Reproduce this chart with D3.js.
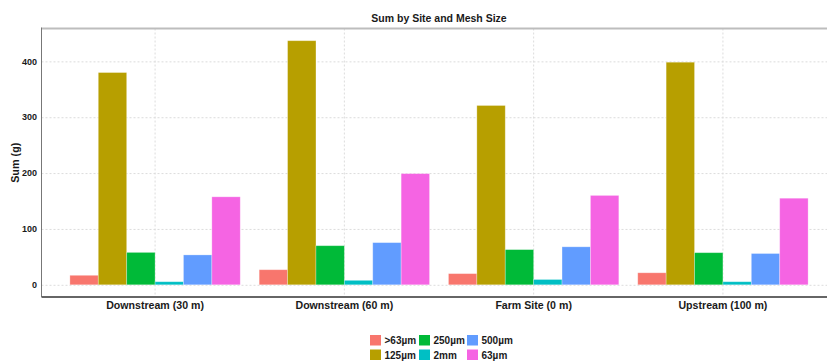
<!DOCTYPE html>
<html>
<head>
<meta charset="utf-8">
<script src="https://cdn.jsdelivr.net/npm/d3@7"></script>
<style>
  body { margin: 0; background: #fff; }
  text { font-family: "Liberation Sans", Arial, sans-serif; font-weight: bold; fill: #1a1a1a; }
</style>
</head>
<body>
<div id="chart"></div>
<script>
var sites = ["Downstream (30 m)", "Downstream (60 m)", "Farm Site (0 m)", "Upstream (100 m)"];
var meshes = [">63µm", "125µm", "250µm", "2mm", "500µm", "63µm"];
var colors = ["#F8766D", "#B79F00", "#00BA38", "#00BFC4", "#619CFF", "#F564E3"];

// one array per mesh size, values per site
var gt63 = [17, 27, 20, 21.5];
var m125 = [380, 437, 321, 398.5];
var m250 = [58, 70, 63, 57.5];
var m2mm = [5.5, 8, 9.5, 5.5];
var m500 = [53.5, 75.5, 68, 56];
var m63 = [157.5, 199, 160, 155];
var yTicks = [0, 100, 200, 300, 400];

var series = [gt63, m125, m250, m2mm, m500, m63];

var width = 827, height = 361;
var pLeft = 41.5, pRight = 836.5, pTop = 28.5, pBottom = 297;

var svg = d3.select("#chart").append("svg")
    .attr("width", width)
    .attr("height", height);

var data = [];
sites.forEach(function (s, i) {
    meshes.forEach(function (m, j) {
        data.push({ site: s, mesh: m, value: series[j][i] });
    });
});

var x = d3.scaleBand().domain(sites).range([pLeft, pRight])
    .paddingInner(0.1).paddingOuter(0.15);
var xm = d3.scaleBand().domain(meshes).range([0, x.bandwidth()]);
var z = d3.scaleOrdinal().domain(meshes).range(colors);

var ymax = d3.max(data, function (d) { return d.value; });
var y = d3.scaleLinear().domain([-ymax * 0.05, ymax * 1.05]).range([pBottom, pTop]);

// grid
var grid = svg.append("g")
    .attr("stroke", "#dcdcdc")
    .attr("stroke-dasharray", "2,2")
    .attr("stroke-width", 1);
grid.selectAll("line.h").data(yTicks).enter().append("line")
    .attr("x1", pLeft).attr("x2", pRight)
    .attr("y1", function (d) { return y(d) + 0.5; })
    .attr("y2", function (d) { return y(d) + 0.5; });
grid.selectAll("line.v").data(sites).enter().append("line")
    .attr("y1", pTop).attr("y2", pBottom)
    .attr("x1", function (d) { return x(d) + x.bandwidth() / 2; })
    .attr("x2", function (d) { return x(d) + x.bandwidth() / 2; });

// bars
svg.append("g").selectAll("rect").data(data).enter().append("rect")
    .attr("x", function (d) { return x(d.site) + xm(d.mesh); })
    .attr("width", xm.bandwidth())
    .attr("y", function (d) { return y(d.value); })
    .attr("height", function (d) { return y(0) - y(d.value); })
    .attr("fill", function (d) { return z(d.mesh); })
    .attr("stroke", "#fff")
    .attr("stroke-opacity", 0.35)
    .attr("stroke-width", 0.8);

// panel lines
svg.append("line").attr("x1", pLeft).attr("x2", width).attr("y1", pTop).attr("y2", pTop)
    .attr("stroke", "#bdbdbd").attr("stroke-width", 2);
svg.append("line").attr("x1", pLeft).attr("x2", pLeft).attr("y1", pTop - 1).attr("y2", pBottom)
    .attr("stroke", "#777").attr("stroke-width", 1);
svg.append("line").attr("x1", pLeft).attr("x2", width).attr("y1", pBottom).attr("y2", pBottom)
    .attr("stroke", "#666").attr("stroke-width", 1.8);

// y tick labels
svg.append("g").selectAll("text").data(yTicks).enter().append("text")
    .attr("x", pLeft - 4.5)
    .attr("y", function (d) { return y(d); })
    .attr("dy", "0.35em")
    .attr("text-anchor", "end")
    .style("font-size", "9px")
    .text(function (d) { return d; });

// x labels
svg.append("g").selectAll("text").data(sites).enter().append("text")
    .attr("x", function (d) { return x(d) + x.bandwidth() / 2; })
    .attr("y", 309)
    .attr("text-anchor", "middle")
    .style("font-size", "10.6px")
    .text(function (d) { return d; });

// title
svg.append("text")
    .attr("x", (pLeft + pRight) / 2)
    .attr("y", 22)
    .attr("text-anchor", "middle")
    .style("font-size", "10.5px")
    .text("Sum by Site and Mesh Size");

// y axis title
svg.append("text")
    .attr("transform", "translate(18.5," + ((pTop + pBottom) / 2) + ")rotate(-90)")
    .attr("text-anchor", "middle")
    .style("font-size", "10.8px")
    .text("Sum (g)");

// legend, filled column-wise: 3 columns x 2 rows
var colX = [370, 419, 467];
var legend = svg.append("g").selectAll("g").data(meshes).enter().append("g")
    .attr("transform", function (d, i) {
        return "translate(" + colX[Math.floor(i / 2)] + "," + (335 + (i % 2) * 14.5) + ")";
    });
legend.append("rect")
    .attr("width", 11).attr("height", 10.5)
    .attr("fill", function (d) { return z(d); });
legend.append("text")
    .attr("x", 14.5)
    .attr("y", 5.5)
    .attr("dy", "0.35em")
    .style("font-size", "10px")
    .text(function (d) { return d; });
</script>
</body>
</html>
